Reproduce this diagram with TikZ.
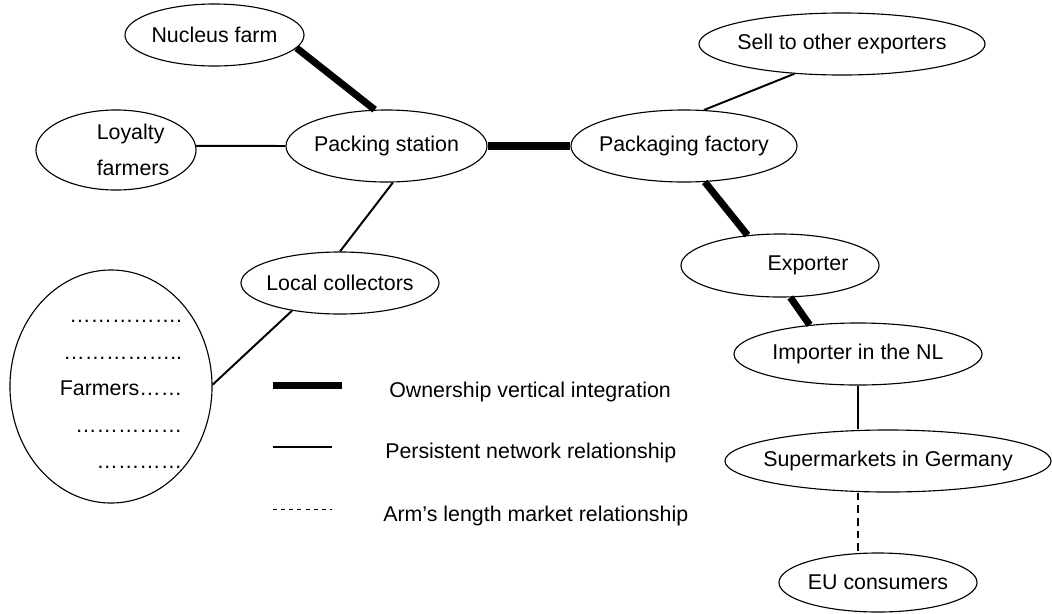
\documentclass[tikz,border=0pt]{standalone}
\usepackage{fontspec}
\setmainfont{Liberation Sans}
\usetikzlibrary{shapes.geometric}

\begin{document}
\begin{tikzpicture}[x=0.025cm,y=-0.025cm,
    actor/.style={ellipse,draw,line width=0.8pt,inner xsep=-9pt,inner ysep=0pt,
      font=\fontsize{15.2}{26}\selectfont},
    owned/.style={line width=5pt},
    tie/.style={line width=1.4pt},
    market/.style={line width=1.4pt,dash pattern=on 5.5pt off 3.5pt},
    keytext/.style={anchor=base west,inner sep=0pt,font=\fontsize{15.2}{18}\selectfont}]
    \useasboundingbox (0,0) rectangle (1052,613);

    % --- supply side ---
    \node[actor,minimum width=4.475cm,minimum height=1.55cm] (NF) at (214.5,35) {Nucleus farm};
    \node[actor,minimum width=4cm,minimum height=2cm,align=left,inner ysep=-2pt] (LF) at (116,150)
      {\hspace*{0.85cm}Loyalty\\\hspace*{0.85cm}farmers};
    \node[actor,minimum width=5.05cm,minimum height=5.825cm,align=right,inner ysep=-6pt] (FA) at (111,386.5)
      {\rule{0pt}{13pt}…………….\\……………..\\\hspace*{0.5cm}Farmers……\\……………\\…………};
    \node[actor,minimum width=5.025cm,minimum height=1.8cm] (PS) at (386.5,146) {Packing station};
    \node[actor,minimum width=4.95cm,minimum height=1.55cm] (LC) at (340,283) {Local collectors};

    % --- trade side ---
    \node[actor,minimum width=5.65cm,minimum height=1.8cm] (PF) at (684,146) {Packaging factory};
    \node[actor,minimum width=7.15cm,minimum height=1.55cm] (SO) at (842,44) {Sell to other exporters};
    \node[actor,minimum width=4.95cm,minimum height=1.575cm] (EX) at (780,265.5) {\hspace*{1.4cm}Exporter};
    \node[actor,minimum width=6.2cm,minimum height=1.55cm] (IM) at (858,354) {Importer in the NL};
    \node[actor,minimum width=8.15cm,minimum height=1.55cm] (SG) at (888,461) {Supermarkets in Germany};
    \node[actor,minimum width=4.95cm,minimum height=1.475cm] (EU) at (878,582.5) {EU consumers};

    % --- relations ---
    \draw[owned] (NF.-9) -- (PS.108);
    \draw[tie] (LF.3) -- (PS.west);
    \draw[owned] (PS.east) -- (PF.west);
    \draw[tie] (PS.-80) -- (LC.north);
    \draw[tie] (LC.210) -- (FA.1);
    \draw[tie] (PF.61) -- (SO.212);
    \draw[owned] (PF.-60) -- (EX.137);
    \draw[owned] (EX.-72) -- (IM.149);
    \draw[tie] (IM.south) -- (IM.south |- SG.north);
    \draw[market] (IM.south |- SG.south) -- (IM.south |- EU.north);

    % --- key ---
    \coordinate (k1a) at (273,385.5); \coordinate (k1b) at (342,385.5);
    \coordinate (k2a) at (273,447);   \coordinate (k2b) at (332,447);
    \coordinate (k3a) at (273,509);   \coordinate (k3b) at (332,509);
    \draw[owned] (k1a) -- (k1b);
    \draw[tie] (k2a) -- (k2b);
    \draw[line width=0.6pt,dash pattern=on 2.8pt off 3pt] (k3a) -- (k3b);
    \node[keytext] (K1) at (389,397) {Ownership vertical integration};
    \node[keytext] (K2) at (385,458) {Persistent network relationship};
    \node[keytext] (K3) at (383,521) {Arm’s length market relationship};
\end{tikzpicture}
\end{document}
